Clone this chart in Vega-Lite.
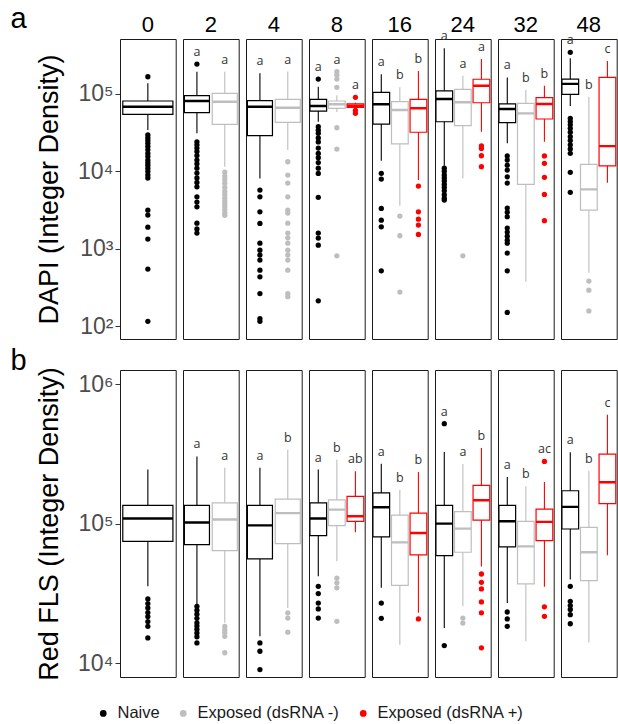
{
"$schema":"https://vega.github.io/schema/vega-lite/v6.json",
"padding":{"left":10,"top":5,"right":2,"bottom":2},
"background":"white",
"data":{"values":[
{"panel":"a","time":0,"group":"Naive","lower":34200,"q1":54600,"median":68500,"q3":81200,"upper":137500,"max":167000,"letter":""},
{"panel":"a","time":2,"group":"Naive","lower":31000,"q1":57300,"median":81200,"q3":95000,"upper":194000,"max":244000,"letter":"a"},
{"panel":"a","time":2,"group":"Exposed (dsRNA -)","lower":11500,"q1":40500,"median":79500,"q3":102000,"upper":194000,"max":194000,"letter":"a"},
{"panel":"a","time":4,"group":"Naive","lower":8100,"q1":28900,"median":68500,"q3":81900,"upper":185000,"max":185000,"letter":"a"},
{"panel":"a","time":4,"group":"Exposed (dsRNA -)","lower":18900,"q1":43000,"median":66500,"q3":85400,"upper":195000,"max":195000,"letter":"a"},
{"panel":"a","time":8,"group":"Naive","lower":43800,"q1":60200,"median":70000,"q3":85400,"upper":124000,"max":156000,"letter":"a"},
{"panel":"a","time":8,"group":"Exposed (dsRNA -)","lower":58500,"q1":65300,"median":73600,"q3":81200,"upper":96000,"max":194000,"letter":"a"},
{"panel":"a","time":8,"group":"Exposed (dsRNA +)","lower":65000,"q1":67300,"median":70600,"q3":74300,"upper":77000,"max":90600,"letter":"a"},
{"panel":"a","time":16,"group":"Naive","lower":13700,"q1":40900,"median":73600,"q3":105000,"upper":180000,"max":180000,"letter":"a"},
{"panel":"a","time":16,"group":"Exposed (dsRNA -)","lower":3590,"q1":22600,"median":62100,"q3":79500,"upper":122000,"max":122000,"letter":"b"},
{"panel":"a","time":16,"group":"Exposed (dsRNA +)","lower":7700,"q1":32000,"median":65300,"q3":85400,"upper":199000,"max":199000,"letter":"b"},
{"panel":"a","time":24,"group":"Naive","lower":11800,"q1":43800,"median":86100,"q3":110000,"upper":390000,"max":390000,"letter":"a"},
{"panel":"a","time":24,"group":"Exposed (dsRNA -)","lower":8100,"q1":38900,"median":78200,"q3":115000,"upper":172000,"max":172000,"letter":"a"},
{"panel":"a","time":24,"group":"Exposed (dsRNA +)","lower":32500,"q1":77100,"median":128000,"q3":155000,"upper":284000,"max":284000,"letter":"a"},
{"panel":"a","time":32,"group":"Naive","lower":23000,"q1":42600,"median":64000,"q3":74300,"upper":164000,"max":164000,"letter":"a"},
{"panel":"a","time":32,"group":"Exposed (dsRNA -)","lower":373,"q1":6790,"median":56200,"q3":75800,"upper":113000,"max":113000,"letter":"b"},
{"panel":"a","time":32,"group":"Exposed (dsRNA +)","lower":24100,"q1":47500,"median":74300,"q3":89600,"upper":128000,"max":128000,"letter":"b"},
{"panel":"a","time":48,"group":"Naive","lower":70000,"q1":99100,"median":135000,"q3":156000,"upper":290000,"max":346000,"letter":"a"},
{"panel":"a","time":48,"group":"Exposed (dsRNA -)","lower":488,"q1":3160,"median":5850,"q3":12300,"upper":92300,"max":92300,"letter":"b"},
{"panel":"a","time":48,"group":"Exposed (dsRNA +)","lower":7110,"q1":11800,"median":21200,"q3":164000,"upper":267000,"max":267000,"letter":"c"},
{"panel":"b","time":0,"group":"Naive","lower":35600,"q1":74700,"median":109000,"q3":135000,"upper":244000,"max":244000,"letter":""},
{"panel":"b","time":2,"group":"Naive","lower":26300,"q1":70800,"median":102000,"q3":135000,"upper":303000,"max":303000,"letter":"a"},
{"panel":"b","time":2,"group":"Exposed (dsRNA -)","lower":19500,"q1":64100,"median":107000,"q3":141000,"upper":251000,"max":251000,"letter":"a"},
{"panel":"b","time":4,"group":"Naive","lower":15600,"q1":55900,"median":97200,"q3":135000,"upper":251000,"max":251000,"letter":"a"},
{"panel":"b","time":4,"group":"Exposed (dsRNA -)","lower":24900,"q1":71900,"median":119000,"q3":150000,"upper":339000,"max":339000,"letter":"b"},
{"panel":"b","time":8,"group":"Naive","lower":42000,"q1":82000,"median":109000,"q3":141000,"upper":244000,"max":244000,"letter":"a"},
{"panel":"b","time":8,"group":"Exposed (dsRNA -)","lower":53700,"q1":96800,"median":126000,"q3":148000,"upper":287000,"max":287000,"letter":"b"},
{"panel":"b","time":8,"group":"Exposed (dsRNA +)","lower":86700,"q1":104000,"median":113000,"q3":157000,"upper":237000,"max":237000,"letter":"ab"},
{"panel":"b","time":16,"group":"Naive","lower":34700,"q1":80300,"median":131000,"q3":166000,"upper":269000,"max":269000,"letter":"a"},
{"panel":"b","time":16,"group":"Exposed (dsRNA -)","lower":13600,"q1":36200,"median":73500,"q3":115000,"upper":175000,"max":175000,"letter":"b"},
{"panel":"b","time":16,"group":"Exposed (dsRNA +)","lower":23000,"q1":59700,"median":85800,"q3":119000,"upper":234000,"max":234000,"letter":"b"},
{"panel":"b","time":24,"group":"Naive","lower":17900,"q1":59000,"median":100000,"q3":135000,"upper":326000,"max":520000,"letter":"a"},
{"panel":"b","time":24,"group":"Exposed (dsRNA -)","lower":25600,"q1":62400,"median":92100,"q3":122000,"upper":267000,"max":267000,"letter":"a"},
{"panel":"b","time":24,"group":"Exposed (dsRNA +)","lower":49400,"q1":106000,"median":147000,"q3":188000,"upper":348000,"max":348000,"letter":"b"},
{"panel":"b","time":32,"group":"Naive","lower":27000,"q1":68100,"median":104000,"q3":135000,"upper":216000,"max":216000,"letter":"a"},
{"panel":"b","time":32,"group":"Exposed (dsRNA -)","lower":14400,"q1":37000,"median":68800,"q3":104000,"upper":185000,"max":185000,"letter":"b"},
{"panel":"b","time":32,"group":"Exposed (dsRNA +)","lower":35300,"q1":75600,"median":103000,"q3":127000,"upper":199000,"max":279000,"letter":"ac"},
{"panel":"b","time":48,"group":"Naive","lower":39800,"q1":91600,"median":132000,"q3":172000,"upper":324000,"max":324000,"letter":"a"},
{"panel":"b","time":48,"group":"Exposed (dsRNA -)","lower":14100,"q1":39100,"median":62400,"q3":94100,"upper":239000,"max":239000,"letter":"b"},
{"panel":"b","time":48,"group":"Exposed (dsRNA +)","lower":59300,"q1":139000,"median":198000,"q3":315000,"upper":603000,"max":603000,"letter":"c"},
{"panel":"a","time":0,"group":"Naive","value":167000},{"panel":"a","time":0,"group":"Naive","value":29500},{"panel":"a","time":0,"group":"Naive","value":27000},{"panel":"a","time":0,"group":"Naive","value":25000},{"panel":"a","time":0,"group":"Naive","value":23000},{"panel":"a","time":0,"group":"Naive","value":21000},{"panel":"a","time":0,"group":"Naive","value":19000},{"panel":"a","time":0,"group":"Naive","value":17000},{"panel":"a","time":0,"group":"Naive","value":15500},{"panel":"a","time":0,"group":"Naive","value":14000},{"panel":"a","time":0,"group":"Naive","value":13000},{"panel":"a","time":0,"group":"Naive","value":12000},{"panel":"a","time":0,"group":"Naive","value":11000},{"panel":"a","time":0,"group":"Naive","value":10000},{"panel":"a","time":0,"group":"Naive","value":9000},{"panel":"a","time":0,"group":"Naive","value":8200},{"panel":"a","time":0,"group":"Naive","value":3150},{"panel":"a","time":0,"group":"Naive","value":2720},{"panel":"a","time":0,"group":"Naive","value":1900},{"panel":"a","time":0,"group":"Naive","value":1330},{"panel":"a","time":0,"group":"Naive","value":545},{"panel":"a","time":0,"group":"Naive","value":115},
{"panel":"a","time":2,"group":"Naive","value":244000},{"panel":"a","time":2,"group":"Naive","value":24100},{"panel":"a","time":2,"group":"Naive","value":22000},{"panel":"a","time":2,"group":"Naive","value":20000},{"panel":"a","time":2,"group":"Naive","value":18000},{"panel":"a","time":2,"group":"Naive","value":16000},{"panel":"a","time":2,"group":"Naive","value":14000},{"panel":"a","time":2,"group":"Naive","value":12500},{"panel":"a","time":2,"group":"Naive","value":11000},{"panel":"a","time":2,"group":"Naive","value":9500},{"panel":"a","time":2,"group":"Naive","value":8200},{"panel":"a","time":2,"group":"Naive","value":7200},{"panel":"a","time":2,"group":"Naive","value":6300},{"panel":"a","time":2,"group":"Naive","value":4690},{"panel":"a","time":2,"group":"Naive","value":4000},{"panel":"a","time":2,"group":"Naive","value":3480},{"panel":"a","time":2,"group":"Naive","value":2140},{"panel":"a","time":2,"group":"Naive","value":1800},{"panel":"a","time":2,"group":"Naive","value":1590},
{"panel":"a","time":2,"group":"Exposed (dsRNA -)","value":9800},{"panel":"a","time":2,"group":"Exposed (dsRNA -)","value":8700},{"panel":"a","time":2,"group":"Exposed (dsRNA -)","value":7800},{"panel":"a","time":2,"group":"Exposed (dsRNA -)","value":7000},{"panel":"a","time":2,"group":"Exposed (dsRNA -)","value":6200},{"panel":"a","time":2,"group":"Exposed (dsRNA -)","value":5500},{"panel":"a","time":2,"group":"Exposed (dsRNA -)","value":5000},{"panel":"a","time":2,"group":"Exposed (dsRNA -)","value":4500},{"panel":"a","time":2,"group":"Exposed (dsRNA -)","value":4100},{"panel":"a","time":2,"group":"Exposed (dsRNA -)","value":3800},{"panel":"a","time":2,"group":"Exposed (dsRNA -)","value":3500},{"panel":"a","time":2,"group":"Exposed (dsRNA -)","value":3200},{"panel":"a","time":2,"group":"Exposed (dsRNA -)","value":2900},{"panel":"a","time":2,"group":"Exposed (dsRNA -)","value":2700},
{"panel":"a","time":4,"group":"Naive","value":5730},{"panel":"a","time":4,"group":"Naive","value":4690},{"panel":"a","time":4,"group":"Naive","value":3000},{"panel":"a","time":4,"group":"Naive","value":2120},{"panel":"a","time":4,"group":"Naive","value":1180},{"panel":"a","time":4,"group":"Naive","value":955},{"panel":"a","time":4,"group":"Naive","value":826},{"panel":"a","time":4,"group":"Naive","value":712},{"panel":"a","time":4,"group":"Naive","value":528},{"panel":"a","time":4,"group":"Naive","value":433},{"panel":"a","time":4,"group":"Naive","value":263},{"panel":"a","time":4,"group":"Naive","value":125},{"panel":"a","time":4,"group":"Naive","value":115},
{"panel":"a","time":4,"group":"Exposed (dsRNA -)","value":13300},{"panel":"a","time":4,"group":"Exposed (dsRNA -)","value":8950},{"panel":"a","time":4,"group":"Exposed (dsRNA -)","value":7060},{"panel":"a","time":4,"group":"Exposed (dsRNA -)","value":4690},{"panel":"a","time":4,"group":"Exposed (dsRNA -)","value":3160},{"panel":"a","time":4,"group":"Exposed (dsRNA -)","value":2890},{"panel":"a","time":4,"group":"Exposed (dsRNA -)","value":2140},{"panel":"a","time":4,"group":"Exposed (dsRNA -)","value":1590},{"panel":"a","time":4,"group":"Exposed (dsRNA -)","value":1380},{"panel":"a","time":4,"group":"Exposed (dsRNA -)","value":1180},{"panel":"a","time":4,"group":"Exposed (dsRNA -)","value":955},{"panel":"a","time":4,"group":"Exposed (dsRNA -)","value":826},{"panel":"a","time":4,"group":"Exposed (dsRNA -)","value":712},{"panel":"a","time":4,"group":"Exposed (dsRNA -)","value":528},{"panel":"a","time":4,"group":"Exposed (dsRNA -)","value":263},{"panel":"a","time":4,"group":"Exposed (dsRNA -)","value":240},
{"panel":"a","time":8,"group":"Naive","value":156000},{"panel":"a","time":8,"group":"Naive","value":37800},{"panel":"a","time":8,"group":"Naive","value":34000},{"panel":"a","time":8,"group":"Naive","value":31000},{"panel":"a","time":8,"group":"Naive","value":27000},{"panel":"a","time":8,"group":"Naive","value":24000},{"panel":"a","time":8,"group":"Naive","value":20000},{"panel":"a","time":8,"group":"Naive","value":17000},{"panel":"a","time":8,"group":"Naive","value":15000},{"panel":"a","time":8,"group":"Naive","value":13000},{"panel":"a","time":8,"group":"Naive","value":11000},{"panel":"a","time":8,"group":"Naive","value":9400},{"panel":"a","time":8,"group":"Naive","value":4610},{"panel":"a","time":8,"group":"Naive","value":1590},{"panel":"a","time":8,"group":"Naive","value":1370},{"panel":"a","time":8,"group":"Naive","value":1110},{"panel":"a","time":8,"group":"Naive","value":212},
{"panel":"a","time":8,"group":"Exposed (dsRNA -)","value":194000},{"panel":"a","time":8,"group":"Exposed (dsRNA -)","value":176000},{"panel":"a","time":8,"group":"Exposed (dsRNA -)","value":156000},{"panel":"a","time":8,"group":"Exposed (dsRNA -)","value":122000},{"panel":"a","time":8,"group":"Exposed (dsRNA -)","value":36600},{"panel":"a","time":8,"group":"Exposed (dsRNA -)","value":19400},{"panel":"a","time":8,"group":"Exposed (dsRNA -)","value":809},
{"panel":"a","time":8,"group":"Exposed (dsRNA +)","value":90600},{"panel":"a","time":8,"group":"Exposed (dsRNA +)","value":61500},{"panel":"a","time":8,"group":"Exposed (dsRNA +)","value":56200},
{"panel":"a","time":16,"group":"Naive","value":9420},{"panel":"a","time":16,"group":"Naive","value":7950},{"panel":"a","time":16,"group":"Naive","value":3320},{"panel":"a","time":16,"group":"Naive","value":2340},{"panel":"a","time":16,"group":"Naive","value":1920},{"panel":"a","time":16,"group":"Naive","value":518},
{"panel":"a","time":16,"group":"Exposed (dsRNA -)","value":2640},{"panel":"a","time":16,"group":"Exposed (dsRNA -)","value":1470},{"panel":"a","time":16,"group":"Exposed (dsRNA -)","value":275},
{"panel":"a","time":16,"group":"Exposed (dsRNA +)","value":6460},{"panel":"a","time":16,"group":"Exposed (dsRNA +)","value":3000},{"panel":"a","time":16,"group":"Exposed (dsRNA +)","value":2410},{"panel":"a","time":16,"group":"Exposed (dsRNA +)","value":2020},{"panel":"a","time":16,"group":"Exposed (dsRNA +)","value":1530},
{"panel":"a","time":24,"group":"Naive","value":11000},{"panel":"a","time":24,"group":"Naive","value":10000},{"panel":"a","time":24,"group":"Naive","value":9000},{"panel":"a","time":24,"group":"Naive","value":8200},{"panel":"a","time":24,"group":"Naive","value":7500},{"panel":"a","time":24,"group":"Naive","value":6800},{"panel":"a","time":24,"group":"Naive","value":6200},{"panel":"a","time":24,"group":"Naive","value":5600},{"panel":"a","time":24,"group":"Naive","value":5000},{"panel":"a","time":24,"group":"Naive","value":4500},{"panel":"a","time":24,"group":"Naive","value":4250},
{"panel":"a","time":24,"group":"Exposed (dsRNA -)","value":809},
{"panel":"a","time":24,"group":"Exposed (dsRNA +)","value":21400},{"panel":"a","time":24,"group":"Exposed (dsRNA +)","value":19800},{"panel":"a","time":24,"group":"Exposed (dsRNA +)","value":15900},{"panel":"a","time":24,"group":"Exposed (dsRNA +)","value":11500},
{"panel":"a","time":32,"group":"Naive","value":15800},{"panel":"a","time":32,"group":"Naive","value":14000},{"panel":"a","time":32,"group":"Naive","value":12000},{"panel":"a","time":32,"group":"Naive","value":10400},{"panel":"a","time":32,"group":"Naive","value":8500},{"panel":"a","time":32,"group":"Naive","value":7060},{"panel":"a","time":32,"group":"Naive","value":3350},{"panel":"a","time":32,"group":"Naive","value":2970},{"panel":"a","time":32,"group":"Naive","value":2590},{"panel":"a","time":32,"group":"Naive","value":1850},{"panel":"a","time":32,"group":"Naive","value":1640},{"panel":"a","time":32,"group":"Naive","value":1450},{"panel":"a","time":32,"group":"Naive","value":1290},{"panel":"a","time":32,"group":"Naive","value":1180},{"panel":"a","time":32,"group":"Naive","value":877},{"panel":"a","time":32,"group":"Naive","value":518},{"panel":"a","time":32,"group":"Naive","value":150},
{"panel":"a","time":32,"group":"Exposed (dsRNA +)","value":15800},{"panel":"a","time":32,"group":"Exposed (dsRNA +)","value":12700},{"panel":"a","time":32,"group":"Exposed (dsRNA +)","value":8360},{"panel":"a","time":32,"group":"Exposed (dsRNA +)","value":5030},{"panel":"a","time":32,"group":"Exposed (dsRNA +)","value":2300},
{"panel":"a","time":48,"group":"Naive","value":346000},{"panel":"a","time":48,"group":"Naive","value":48500},{"panel":"a","time":48,"group":"Naive","value":44000},{"panel":"a","time":48,"group":"Naive","value":40000},{"panel":"a","time":48,"group":"Naive","value":36000},{"panel":"a","time":48,"group":"Naive","value":32000},{"panel":"a","time":48,"group":"Naive","value":28000},{"panel":"a","time":48,"group":"Naive","value":25000},{"panel":"a","time":48,"group":"Naive","value":22000},{"panel":"a","time":48,"group":"Naive","value":19500},{"panel":"a","time":48,"group":"Naive","value":17100},{"panel":"a","time":48,"group":"Naive","value":9700},{"panel":"a","time":48,"group":"Naive","value":5350},
{"panel":"a","time":48,"group":"Exposed (dsRNA -)","value":381},{"panel":"a","time":48,"group":"Exposed (dsRNA -)","value":291},{"panel":"a","time":48,"group":"Exposed (dsRNA -)","value":157},
{"panel":"b","time":0,"group":"Naive","value":28900},{"panel":"b","time":0,"group":"Naive","value":26800},{"panel":"b","time":0,"group":"Naive","value":24900},{"panel":"b","time":0,"group":"Naive","value":23100},{"panel":"b","time":0,"group":"Naive","value":21600},{"panel":"b","time":0,"group":"Naive","value":19900},{"panel":"b","time":0,"group":"Naive","value":18400},{"panel":"b","time":0,"group":"Naive","value":15200},
{"panel":"b","time":2,"group":"Naive","value":25600},{"panel":"b","time":2,"group":"Naive","value":24000},{"panel":"b","time":2,"group":"Naive","value":22500},{"panel":"b","time":2,"group":"Naive","value":21000},{"panel":"b","time":2,"group":"Naive","value":19500},{"panel":"b","time":2,"group":"Naive","value":18500},{"panel":"b","time":2,"group":"Naive","value":17500},{"panel":"b","time":2,"group":"Naive","value":16500},{"panel":"b","time":2,"group":"Naive","value":15500},{"panel":"b","time":2,"group":"Naive","value":14000},
{"panel":"b","time":2,"group":"Exposed (dsRNA -)","value":18400},{"panel":"b","time":2,"group":"Exposed (dsRNA -)","value":17400},{"panel":"b","time":2,"group":"Exposed (dsRNA -)","value":16600},{"panel":"b","time":2,"group":"Exposed (dsRNA -)","value":15600},{"panel":"b","time":2,"group":"Exposed (dsRNA -)","value":11900},
{"panel":"b","time":4,"group":"Naive","value":14000},{"panel":"b","time":4,"group":"Naive","value":12200},{"panel":"b","time":4,"group":"Naive","value":9020},
{"panel":"b","time":4,"group":"Exposed (dsRNA -)","value":23000},{"panel":"b","time":4,"group":"Exposed (dsRNA -)","value":21100},{"panel":"b","time":4,"group":"Exposed (dsRNA -)","value":16700},
{"panel":"b","time":8,"group":"Naive","value":35600},{"panel":"b","time":8,"group":"Naive","value":31600},{"panel":"b","time":8,"group":"Naive","value":27000},{"panel":"b","time":8,"group":"Naive","value":24500},{"panel":"b","time":8,"group":"Naive","value":21100},
{"panel":"b","time":8,"group":"Exposed (dsRNA -)","value":40800},{"panel":"b","time":8,"group":"Exposed (dsRNA -)","value":37700},{"panel":"b","time":8,"group":"Exposed (dsRNA -)","value":34700},{"panel":"b","time":8,"group":"Exposed (dsRNA -)","value":20000},
{"panel":"b","time":16,"group":"Naive","value":27000},{"panel":"b","time":16,"group":"Naive","value":21000},
{"panel":"b","time":16,"group":"Exposed (dsRNA +)","value":20800},
{"panel":"b","time":24,"group":"Naive","value":520000},{"panel":"b","time":24,"group":"Naive","value":13400},
{"panel":"b","time":24,"group":"Exposed (dsRNA -)","value":21100},{"panel":"b","time":24,"group":"Exposed (dsRNA -)","value":19400},
{"panel":"b","time":24,"group":"Exposed (dsRNA +)","value":43600},{"panel":"b","time":24,"group":"Exposed (dsRNA +)","value":38000},{"panel":"b","time":24,"group":"Exposed (dsRNA +)","value":34100},{"panel":"b","time":24,"group":"Exposed (dsRNA +)","value":27500},{"panel":"b","time":24,"group":"Exposed (dsRNA +)","value":23000},{"panel":"b","time":24,"group":"Exposed (dsRNA +)","value":12900},
{"panel":"b","time":32,"group":"Naive","value":23300},{"panel":"b","time":32,"group":"Naive","value":20800},{"panel":"b","time":32,"group":"Naive","value":18400},
{"panel":"b","time":32,"group":"Exposed (dsRNA +)","value":279000},{"panel":"b","time":32,"group":"Exposed (dsRNA +)","value":25400},{"panel":"b","time":32,"group":"Exposed (dsRNA +)","value":21700},
{"panel":"b","time":48,"group":"Naive","value":35600},{"panel":"b","time":48,"group":"Naive","value":27800},{"panel":"b","time":48,"group":"Naive","value":25900},{"panel":"b","time":48,"group":"Naive","value":24300},{"panel":"b","time":48,"group":"Naive","value":22300},{"panel":"b","time":48,"group":"Naive","value":19200}
]},
"vconcat":[
{
"title":{"text":"a","dy":24,"dx":-25},
"bounds":"flush",
"transform":[{"filter":"datum.panel == 'a'"}],
"facet":{"column":{"field":"time","type":"ordinal","sort":"ascending","header":{"title":null,"labelFontSize":22,"labelColor":"black","labelPadding":2}}},
"spacing":7,
"resolve":{"scale":{"x":"independent"}},
"spec":{"width":55.7,"height":300,"layer":[
{"transform":[{"filter":"isValid(datum.q1)"}],"mark":{"type":"rule","strokeWidth":1.1},"encoding":{
"x":{"field":"group","type":"nominal","sort":["Naive","Exposed (dsRNA -)","Exposed (dsRNA +)"],"scale":{"type":"band","paddingInner":0.1,"paddingOuter":0.05},"axis":null},
"y":{"field":"lower","type":"quantitative","scale":{"type":"log","domain":[68,514000],"nice":false},"axis":{"values":[100,1000,10000,100000],"labelExpr":"datum.value==100?'10²':datum.value==1000?'10³':datum.value==10000?'10⁴':datum.value==100000?'10⁵':'10⁶'","title":"DAPI (Integer Density)"}},
"y2":{"field":"upper"},
"stroke":{"field":"group","type":"nominal","scale":{"domain":["Exposed (dsRNA +)","Exposed (dsRNA -)","Naive"],"range":["#ff0000","#bebebe","#000000"]},"legend":null}}},
{"transform":[{"filter":"isValid(datum.q1)"}],"mark":{"type":"bar","fill":"white","strokeWidth":1.2},"encoding":{
"x":{"field":"group","type":"nominal","sort":["Naive","Exposed (dsRNA -)","Exposed (dsRNA +)"],"scale":{"type":"band","paddingInner":0.1,"paddingOuter":0.05},"axis":null},
"y":{"field":"q1","type":"quantitative","scale":{"type":"log","domain":[68,514000],"nice":false},"axis":{"values":[100,1000,10000,100000],"labelExpr":"datum.value==100?'10²':datum.value==1000?'10³':datum.value==10000?'10⁴':datum.value==100000?'10⁵':'10⁶'","title":"DAPI (Integer Density)"}},
"y2":{"field":"q3"},
"stroke":{"field":"group","type":"nominal","scale":{"domain":["Exposed (dsRNA +)","Exposed (dsRNA -)","Naive"],"range":["#ff0000","#bebebe","#000000"]},"legend":null}}},
{"transform":[{"filter":"isValid(datum.q1)"}],"mark":{"type":"bar","fill":null,"strokeWidth":2.4},"encoding":{
"x":{"field":"group","type":"nominal","sort":["Naive","Exposed (dsRNA -)","Exposed (dsRNA +)"],"scale":{"type":"band","paddingInner":0.1,"paddingOuter":0.05},"axis":null},
"y":{"field":"median","type":"quantitative","scale":{"type":"log","domain":[68,514000],"nice":false},"axis":{"values":[100,1000,10000,100000],"labelExpr":"datum.value==100?'10²':datum.value==1000?'10³':datum.value==10000?'10⁴':datum.value==100000?'10⁵':'10⁶'","title":"DAPI (Integer Density)"}},
"y2":{"field":"median"},
"stroke":{"field":"group","type":"nominal","scale":{"domain":["Exposed (dsRNA +)","Exposed (dsRNA -)","Naive"],"range":["#ff0000","#bebebe","#000000"]},"legend":null}}},
{"transform":[{"filter":"isValid(datum.value)"}],"mark":{"type":"point","filled":true,"size":28,"opacity":1},"encoding":{
"x":{"field":"group","type":"nominal","sort":["Naive","Exposed (dsRNA -)","Exposed (dsRNA +)"],"scale":{"type":"band","paddingInner":0.1,"paddingOuter":0.05},"axis":null},
"y":{"field":"value","type":"quantitative","scale":{"type":"log","domain":[68,514000],"nice":false},"axis":{"values":[100,1000,10000,100000],"labelExpr":"datum.value==100?'10²':datum.value==1000?'10³':datum.value==10000?'10⁴':datum.value==100000?'10⁵':'10⁶'","title":"DAPI (Integer Density)"}},
"color":{"field":"group","type":"nominal","scale":{"domain":["Naive","Exposed (dsRNA -)","Exposed (dsRNA +)"],"range":["#000000","#bebebe","#ff0000"]},"legend":{"title":null,"orient":"none","legendX":-25,"legendY":666,"direction":"horizontal"}}}},
{"transform":[{"filter":"isValid(datum.q1) && datum.letter != ''"}],"mark":{"type":"text","dy":-8,"baseline":"alphabetic","fontSize":12.5,"font":"Open Sans","color":"#333333"},"encoding":{
"x":{"field":"group","type":"nominal","sort":["Naive","Exposed (dsRNA -)","Exposed (dsRNA +)"],"scale":{"type":"band","paddingInner":0.1,"paddingOuter":0.05},"axis":null},
"y":{"field":"max","type":"quantitative","scale":{"type":"log","domain":[68,514000],"nice":false},"axis":{"values":[100,1000,10000,100000],"labelExpr":"datum.value==100?'10²':datum.value==1000?'10³':datum.value==10000?'10⁴':datum.value==100000?'10⁵':'10⁶'","title":"DAPI (Integer Density)"}},
"text":{"field":"letter"}}}
]}
},
{
"title":{"text":"b","dx":-25,"dy":13},
"bounds":"flush",
"transform":[{"filter":"datum.panel == 'b'"}],
"facet":{"column":{"field":"time","type":"ordinal","sort":"ascending","header":{"title":null,"labels":false}}},
"spacing":7,
"resolve":{"scale":{"x":"independent"}},
"spec":{"width":55.7,"height":307,"layer":[
{"transform":[{"filter":"isValid(datum.q1)"}],"mark":{"type":"rule","strokeWidth":1.1},"encoding":{
"x":{"field":"group","type":"nominal","sort":["Naive","Exposed (dsRNA -)","Exposed (dsRNA +)"],"scale":{"type":"band","paddingInner":0.1,"paddingOuter":0.05},"axis":null},
"y":{"field":"lower","type":"quantitative","scale":{"type":"log","domain":[7980,1260000],"nice":false},"axis":{"values":[10000,100000,1000000],"labelExpr":"datum.value==100?'10²':datum.value==1000?'10³':datum.value==10000?'10⁴':datum.value==100000?'10⁵':'10⁶'","title":"Red FLS (Integer Density)"}},
"y2":{"field":"upper"},
"stroke":{"field":"group","type":"nominal","scale":{"domain":["Exposed (dsRNA +)","Exposed (dsRNA -)","Naive"],"range":["#ff0000","#bebebe","#000000"]},"legend":null}}},
{"transform":[{"filter":"isValid(datum.q1)"}],"mark":{"type":"bar","fill":"white","strokeWidth":1.2},"encoding":{
"x":{"field":"group","type":"nominal","sort":["Naive","Exposed (dsRNA -)","Exposed (dsRNA +)"],"scale":{"type":"band","paddingInner":0.1,"paddingOuter":0.05},"axis":null},
"y":{"field":"q1","type":"quantitative","scale":{"type":"log","domain":[7980,1260000],"nice":false},"axis":{"values":[10000,100000,1000000],"labelExpr":"datum.value==100?'10²':datum.value==1000?'10³':datum.value==10000?'10⁴':datum.value==100000?'10⁵':'10⁶'","title":"Red FLS (Integer Density)"}},
"y2":{"field":"q3"},
"stroke":{"field":"group","type":"nominal","scale":{"domain":["Exposed (dsRNA +)","Exposed (dsRNA -)","Naive"],"range":["#ff0000","#bebebe","#000000"]},"legend":null}}},
{"transform":[{"filter":"isValid(datum.q1)"}],"mark":{"type":"bar","fill":null,"strokeWidth":2.4},"encoding":{
"x":{"field":"group","type":"nominal","sort":["Naive","Exposed (dsRNA -)","Exposed (dsRNA +)"],"scale":{"type":"band","paddingInner":0.1,"paddingOuter":0.05},"axis":null},
"y":{"field":"median","type":"quantitative","scale":{"type":"log","domain":[7980,1260000],"nice":false},"axis":{"values":[10000,100000,1000000],"labelExpr":"datum.value==100?'10²':datum.value==1000?'10³':datum.value==10000?'10⁴':datum.value==100000?'10⁵':'10⁶'","title":"Red FLS (Integer Density)"}},
"y2":{"field":"median"},
"stroke":{"field":"group","type":"nominal","scale":{"domain":["Exposed (dsRNA +)","Exposed (dsRNA -)","Naive"],"range":["#ff0000","#bebebe","#000000"]},"legend":null}}},
{"transform":[{"filter":"isValid(datum.value)"}],"mark":{"type":"point","filled":true,"size":28,"opacity":1},"encoding":{
"x":{"field":"group","type":"nominal","sort":["Naive","Exposed (dsRNA -)","Exposed (dsRNA +)"],"scale":{"type":"band","paddingInner":0.1,"paddingOuter":0.05},"axis":null},
"y":{"field":"value","type":"quantitative","scale":{"type":"log","domain":[7980,1260000],"nice":false},"axis":{"values":[10000,100000,1000000],"labelExpr":"datum.value==100?'10²':datum.value==1000?'10³':datum.value==10000?'10⁴':datum.value==100000?'10⁵':'10⁶'","title":"Red FLS (Integer Density)"}},
"color":{"field":"group","type":"nominal","scale":{"domain":["Naive","Exposed (dsRNA -)","Exposed (dsRNA +)"],"range":["#000000","#bebebe","#ff0000"]},"legend":{"title":null,"orient":"none","legendX":-25,"legendY":666,"direction":"horizontal"}}}},
{"transform":[{"filter":"isValid(datum.q1) && datum.letter != ''"}],"mark":{"type":"text","dy":-8,"baseline":"alphabetic","fontSize":12.5,"font":"Open Sans","color":"#333333"},"encoding":{
"x":{"field":"group","type":"nominal","sort":["Naive","Exposed (dsRNA -)","Exposed (dsRNA +)"],"scale":{"type":"band","paddingInner":0.1,"paddingOuter":0.05},"axis":null},
"y":{"field":"max","type":"quantitative","scale":{"type":"log","domain":[7980,1260000],"nice":false},"axis":{"values":[10000,100000,1000000],"labelExpr":"datum.value==100?'10²':datum.value==1000?'10³':datum.value==10000?'10⁴':datum.value==100000?'10⁵':'10⁶'","title":"Red FLS (Integer Density)"}},
"text":{"field":"letter"}}}
]}
}
],
"spacing":6,
"resolve":{"scale":{"color":"shared","stroke":"shared"},"legend":{"color":"shared"}},
"config":{
"font":"Liberation Sans",
"view":{"stroke":"#1a1a1a","strokeWidth":1},
"axisY":{"grid":false,"domain":false,"tickSize":5,"tickColor":"#333333","tickWidth":1,"labelFontSize":23,"labelColor":"#4d4d4d","labelPadding":2,"titleFontSize":27,"titleFontWeight":"normal","titleColor":"black","titlePadding":14},
"header":{"labelFont":"Liberation Sans"},
"title":{"fontSize":29,"fontWeight":"normal","anchor":"start","frame":"bounds","color":"black","offset":0},
"legend":{"labelFontSize":16.5,"labelColor":"#1a1a1a","symbolSize":45,"symbolType":"circle","columnPadding":15,"labelOffset":6,"symbolStrokeWidth":0}
}
}
